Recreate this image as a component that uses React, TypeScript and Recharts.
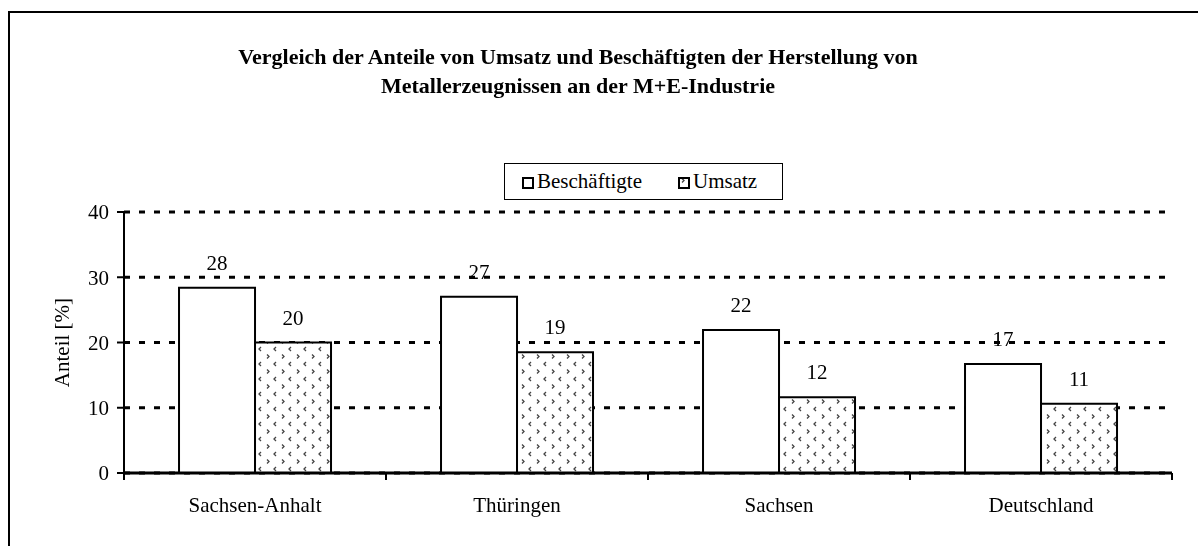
import { BarChart, Bar, XAxis, YAxis, CartesianGrid, LabelList } from 'recharts'

// Kategorien und Werte (Anteil in %)
const regions = ['Sachsen-Anhalt', 'Thüringen', 'Sachsen', 'Deutschland']
const beschaeftigte = [28.4, 27.0, 21.9, 16.7]
const umsatz = [20.0, 18.5, 11.6, 10.6]
const yTicks = [0, 10, 20, 30, 40]

const FONT = '"Liberation Serif", "Times New Roman", serif'
const FS = 21

const data = regions.map((name, i) => ({
    name,
    beschaeftigte: beschaeftigte[i],
    umsatz: umsatz[i],
}))

// chevron pattern of the Umsatz bars
function ChevronPattern({ id }: { id: string }) {
    return (
        <pattern id={id} x="0" y="0" width="15" height="15" patternUnits="userSpaceOnUse">
            <rect x="0" y="0" width="15" height="15" fill="#fff" />
            <path d="M4,1.5 L6,3.5 L4,5.5" stroke="#444" strokeWidth="1.3" fill="none" />
            <path d="M13,9 L11,11 L13,13" stroke="#444" strokeWidth="1.3" fill="none" />
        </pattern>
    )
}

// category tick: label in the middle, tick marks on the category borders
function CategoryTick(props: any) {
    const { x, y, payload } = props
    const half = payload.offset || 0
    return (
        <g>
            <line x1={x - half} y1={y - 25} x2={x - half} y2={y - 18} stroke="#000" strokeWidth={2} />
            <line x1={x + half} y1={y - 25} x2={x + half} y2={y - 18} stroke="#000" strokeWidth={2} />
            <text x={x} y={y} dy={14} textAnchor="middle" fill="#000" fontSize={FS} fontFamily={FONT}>
                {payload.value}
            </text>
        </g>
    )
}

function LegendBox() {
    const item = (label: string, fill: string) => (
        <div style={{ display: 'flex', alignItems: 'center', gap: 3 }}>
            <svg width="12" height="12" style={{ marginTop: 2 }}>
                <defs>
                    <ChevronPattern id="legendPat" />
                </defs>
                <rect x="1" y="1" width="10" height="10" fill={fill} stroke="#000" strokeWidth="2" />
            </svg>
            <span>{label}</span>
        </div>
    )
    return (
        <div
            style={{
                position: 'absolute',
                left: 496,
                top: 155,
                width: 279,
                height: 37,
                border: '1px solid #000',
                display: 'flex',
                alignItems: 'center',
                gap: 36,
                paddingLeft: 17,
                boxSizing: 'border-box',
                fontFamily: FONT,
                fontSize: FS,
                background: '#fff',
            }}
        >
            {item('Beschäftigte', '#fff')}
            {item('Umsatz', 'url(#legendPat)')}
        </div>
    )
}

export default function App() {
    return (
        <div style={{ position: 'relative', width: 1190, height: 530, background: '#fff' }}>
            {/* frame of the chart area, runs past the page edges */}
            <div
                style={{
                    position: 'fixed',
                    left: 8,
                    top: 11,
                    width: 3000,
                    height: 3000,
                    borderTop: '2px solid #000',
                    borderLeft: '2px solid #000',
                    pointerEvents: 'none',
                }}
            />
            <div
                style={{
                    position: 'absolute',
                    left: 0,
                    top: 34,
                    width: 1140,
                    textAlign: 'center',
                    fontFamily: FONT,
                    fontWeight: 'bold',
                    fontSize: 22,
                    lineHeight: '29px',
                }}
            >
                Vergleich der Anteile von Umsatz und Beschäftigten der Herstellung von
                <br />
                Metallerzeugnissen an der M+E-Industrie
            </div>
            <LegendBox />
            <div style={{ position: 'absolute', left: 0, top: 0 }}>
                <BarChart
                    width={1190}
                    height={530}
                    data={data}
                    margin={{ top: 204, right: 26, bottom: 35, left: 0 }}
                    barCategoryGap="21%"
                    barGap={0}
                >
                    <defs>
                        <ChevronPattern id="umsatzPat" />
                    </defs>
                    <CartesianGrid
                        horizontal
                        vertical={false}
                        stroke="#000"
                        strokeWidth={3}
                        strokeDasharray="6 9"
                    />
                    <XAxis
                        dataKey="name"
                        height={30}
                        axisLine={{ stroke: '#000', strokeWidth: 3 }}
                        tickLine={false}
                        tickSize={0}
                        tickMargin={25}
                        tick={<CategoryTick />}
                        interval={0}
                    />
                    <YAxis
                        domain={[0, 40]}
                        ticks={yTicks}
                        width={116}
                        tickSize={7}
                        tickMargin={8}
                        axisLine={{ stroke: '#000', strokeWidth: 2 }}
                        tickLine={{ stroke: '#000', strokeWidth: 2 }}
                        tick={{ fill: '#000', fontSize: FS, fontFamily: FONT }}
                        label={{
                            value: 'Anteil [%]',
                            angle: -90,
                            position: 'center',
                            dx: -4,
                            fill: '#000',
                            fontSize: FS,
                            fontFamily: FONT,
                        }}
                    />
                    <Bar dataKey="beschaeftigte" fill="#fff" stroke="#000" strokeWidth={2} isAnimationActive={false}>
                        <LabelList
                            dataKey="beschaeftigte"
                            position="top"
                            offset={18}
                            formatter={(v: any) => Math.round(Number(v))}
                            style={{ fill: '#000', fontSize: FS, fontFamily: FONT }}
                        />
                    </Bar>
                    <Bar dataKey="umsatz" fill="url(#umsatzPat)" stroke="#000" strokeWidth={2} isAnimationActive={false}>
                        <LabelList
                            dataKey="umsatz"
                            position="top"
                            offset={18}
                            formatter={(v: any) => Math.round(Number(v))}
                            style={{ fill: '#000', fontSize: FS, fontFamily: FONT }}
                        />
                    </Bar>
                </BarChart>
            </div>
        </div>
    )
}
